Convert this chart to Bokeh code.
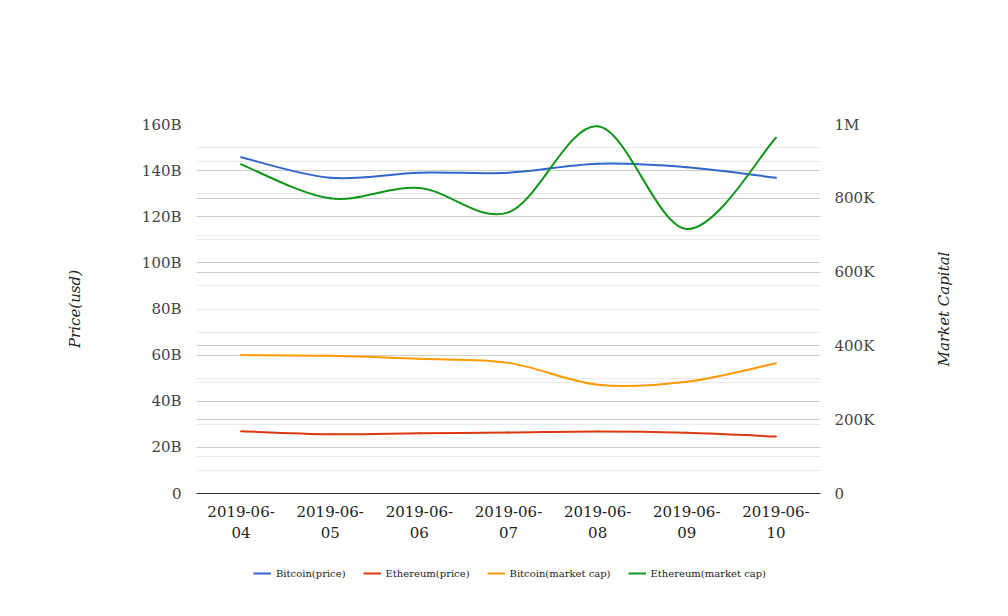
import math
from bokeh.plotting import figure
from bokeh.layouts import column, row
from bokeh.models import (Range1d, LinearAxis, FixedTicker, Grid, Legend,
                          LegendItem, ColumnDataSource, Label)
from bokeh.embed import file_html
from bokeh.resources import INLINE

# ---------------- data ----------------
dates = ["2019-06-04", "2019-06-05", "2019-06-06", "2019-06-07",
         "2019-06-08", "2019-06-09", "2019-06-10"]
btc_price = [145.8e9, 136.9e9, 139.1e9, 139.1e9, 143.0e9, 141.5e9, 136.9e9]
eth_price = [27.0e9, 25.7e9, 26.1e9, 26.4e9, 26.9e9, 26.3e9, 24.7e9]
btc_cap = [375e3, 373e3, 365e3, 354e3, 295e3, 303e3, 353e3]
eth_cap = [892e3, 800e3, 828e3, 762e3, 995e3, 717e3, 964e3]

left_ticks = [0, 20e9, 40e9, 60e9, 80e9, 100e9, 120e9, 140e9, 160e9]
left_minor = [10e9, 30e9, 50e9, 70e9, 90e9, 110e9, 130e9, 150e9]
left_tick_labels = ["0", "20B", "40B", "60B", "80B", "100B", "120B", "140B", "160B"]
right_ticks = [0, 200e3, 400e3, 600e3, 800e3, 1000e3]
right_minor = [100e3, 300e3, 500e3, 700e3, 900e3]
right_tick_labels = ["0", "200K", "400K", "600K", "800K", "1M"]

series_names = ["Bitcoin(price)", "Ethereum(price)", "Bitcoin(market cap)", "Ethereum(market cap)"]
series_colors = ["#3366cc", "#dc3912", "#ff9900", "#109618"]
left_title = "Price(usd)"
right_title = "Market Capital"

FONT = "DejaVu Serif"
MAIN_W = 900

# ---------------- main figure ----------------
p = figure(width=MAIN_W, height=545, output_backend="svg", toolbar_location=None,
           x_range=Range1d(-0.5, len(dates) - 0.5), y_range=Range1d(0, 160e9),
           min_border_left=196, min_border_right=MAIN_W - 820, min_border_top=124,
           min_border_bottom=52)
p.extra_y_ranges = {"right": Range1d(0, 1e6)}
p.outline_line_color = None
p.background_fill_color = "white"
p.border_fill_color = "white"

# grids
p.xgrid.visible = False
p.ygrid.ticker = FixedTicker(ticks=left_ticks, minor_ticks=left_minor)
p.ygrid.grid_line_color = "#cccccc"
p.ygrid.minor_grid_line_color = "#ebebeb"
rgrid = Grid(dimension=1, ticker=FixedTicker(ticks=right_ticks, minor_ticks=right_minor),
             y_range_name="right", grid_line_color="#cccccc",
             minor_grid_line_color="#ebebeb")
p.add_layout(rgrid)

# x axis
xa = p.xaxis[0]
xa.ticker = FixedTicker(ticks=list(range(len(dates))))
xa.major_label_overrides = {i: d[:8] + "\n" + d[8:] for i, d in enumerate(dates)}
xa.major_label_text_font = FONT
xa.major_label_text_font_size = "15px"
xa.major_label_text_color = "#222222"
xa.major_label_standoff = 3
xa.axis_line_color = "#333333"
xa.major_tick_line_color = None
xa.minor_tick_line_color = None

# left axis
ya = p.yaxis[0]
ya.ticker = FixedTicker(ticks=left_ticks)
ya.major_label_overrides = {t: l for t, l in zip(left_ticks, left_tick_labels)}
ya.major_label_text_font = FONT
ya.major_label_text_font_size = "15px"
ya.major_label_text_color = "#444444"
ya.major_label_standoff = 9
ya.axis_line_color = None
ya.major_tick_line_color = None
ya.minor_tick_line_color = None
ya.axis_label = left_title
ya.axis_label_text_font = FONT
ya.axis_label_text_font_style = "italic"
ya.axis_label_text_font_size = "15px"
ya.axis_label_text_color = "#222222"
ya.axis_label_standoff = 55

# right axis (its title is drawn in the side strip so it reads bottom-to-top)
ra = LinearAxis(y_range_name="right", ticker=FixedTicker(ticks=right_ticks))
ra.major_label_overrides = {t: l for t, l in zip(right_ticks, right_tick_labels)}
ra.major_label_text_font = FONT
ra.major_label_text_font_size = "15px"
ra.major_label_text_color = "#444444"
ra.major_label_standoff = 8
ra.axis_line_color = None
ra.major_tick_line_color = None
ra.minor_tick_line_color = None
p.add_layout(ra, "right")


# ---------------- smooth lines (cubic bezier through data points) ----------------
def bezier_source(ys):
    xs = list(range(len(ys)))
    n = len(ys)
    d = dict(x0=[], y0=[], x1=[], y1=[], cx0=[], cy0=[], cx1=[], cy1=[])
    for i in range(n - 1):
        ip = max(i - 1, 0)
        inn = min(i + 2, n - 1)
        d["x0"].append(xs[i]); d["y0"].append(ys[i])
        d["x1"].append(xs[i + 1]); d["y1"].append(ys[i + 1])
        d["cx0"].append(xs[i] + (xs[i + 1] - xs[ip]) / 6.0)
        d["cy0"].append(ys[i] + (ys[i + 1] - ys[ip]) / 6.0)
        d["cx1"].append(xs[i + 1] - (xs[inn] - xs[i]) / 6.0)
        d["cy1"].append(ys[i + 1] - (ys[inn] - ys[i]) / 6.0)
    return ColumnDataSource(d)


series = [btc_price, eth_price, btc_cap, eth_cap]
ranges = ["default", "default", "right", "right"]
for ys, col, rn in zip(series, series_colors, ranges):
    src = bezier_source(ys)
    kw = {} if rn == "default" else {"y_range_name": "right"}
    p.bezier(x0="x0", y0="y0", x1="x1", y1="y1", cx0="cx0", cy0="cy0",
             cx1="cx1", cy1="cy1", source=src, line_color=col, line_width=2,
             line_cap="round", **kw)

# ---------------- legend strip below the chart ----------------
lg = figure(width=MAIN_W, height=55, output_backend="svg", toolbar_location=None,
            x_range=Range1d(1, 2), y_range=Range1d(1, 2),
            x_axis_location=None, y_axis_location=None,
            min_border_left=196, min_border_right=MAIN_W - 820, min_border_top=0,
            min_border_bottom=0)
lg.outline_line_color = None
lg.grid.visible = False
lg.background_fill_color = "white"
lg.border_fill_color = "white"
items = []
for name, col in zip(series_names, series_colors):
    # legend-only proxy renderer, kept outside the visible range
    r = lg.line(x=[0, 0], y=[0, 0], line_color=col, line_width=2)
    items.append(LegendItem(label=name, renderers=[r]))
legend = Legend(items=items, orientation="horizontal", location=(57, 21),
                glyph_width=18, glyph_height=12, label_height=12,
                label_standoff=5, spacing=17, padding=0, margin=0,
                border_line_color=None, background_fill_alpha=0,
                label_text_font=FONT, label_text_font_size="10px",
                label_text_color="#222222")
lg.add_layout(legend, "center")

# ---------------- right title strip ----------------
SIDE_W = 992 - MAIN_W
side = figure(width=SIDE_W, height=545, output_backend="svg", toolbar_location=None,
              x_range=Range1d(0, SIDE_W), y_range=Range1d(0, 1),
              x_axis_location=None, y_axis_location=None,
              min_border_left=0, min_border_right=0, min_border_top=124,
              min_border_bottom=52)
side.outline_line_color = None
side.grid.visible = False
side.background_fill_color = "white"
side.border_fill_color = "white"
side.add_layout(Label(x=943 - MAIN_W, y=0.5, text=right_title, angle=math.pi / 2,
                      text_font=FONT, text_font_style="italic", text_font_size="15px",
                      text_color="#222222", text_align="center",
                      text_baseline="middle"))

layout = row(column(p, lg, spacing=0), side, spacing=0)
open("out.html", "w").write(file_html(layout, INLINE))
